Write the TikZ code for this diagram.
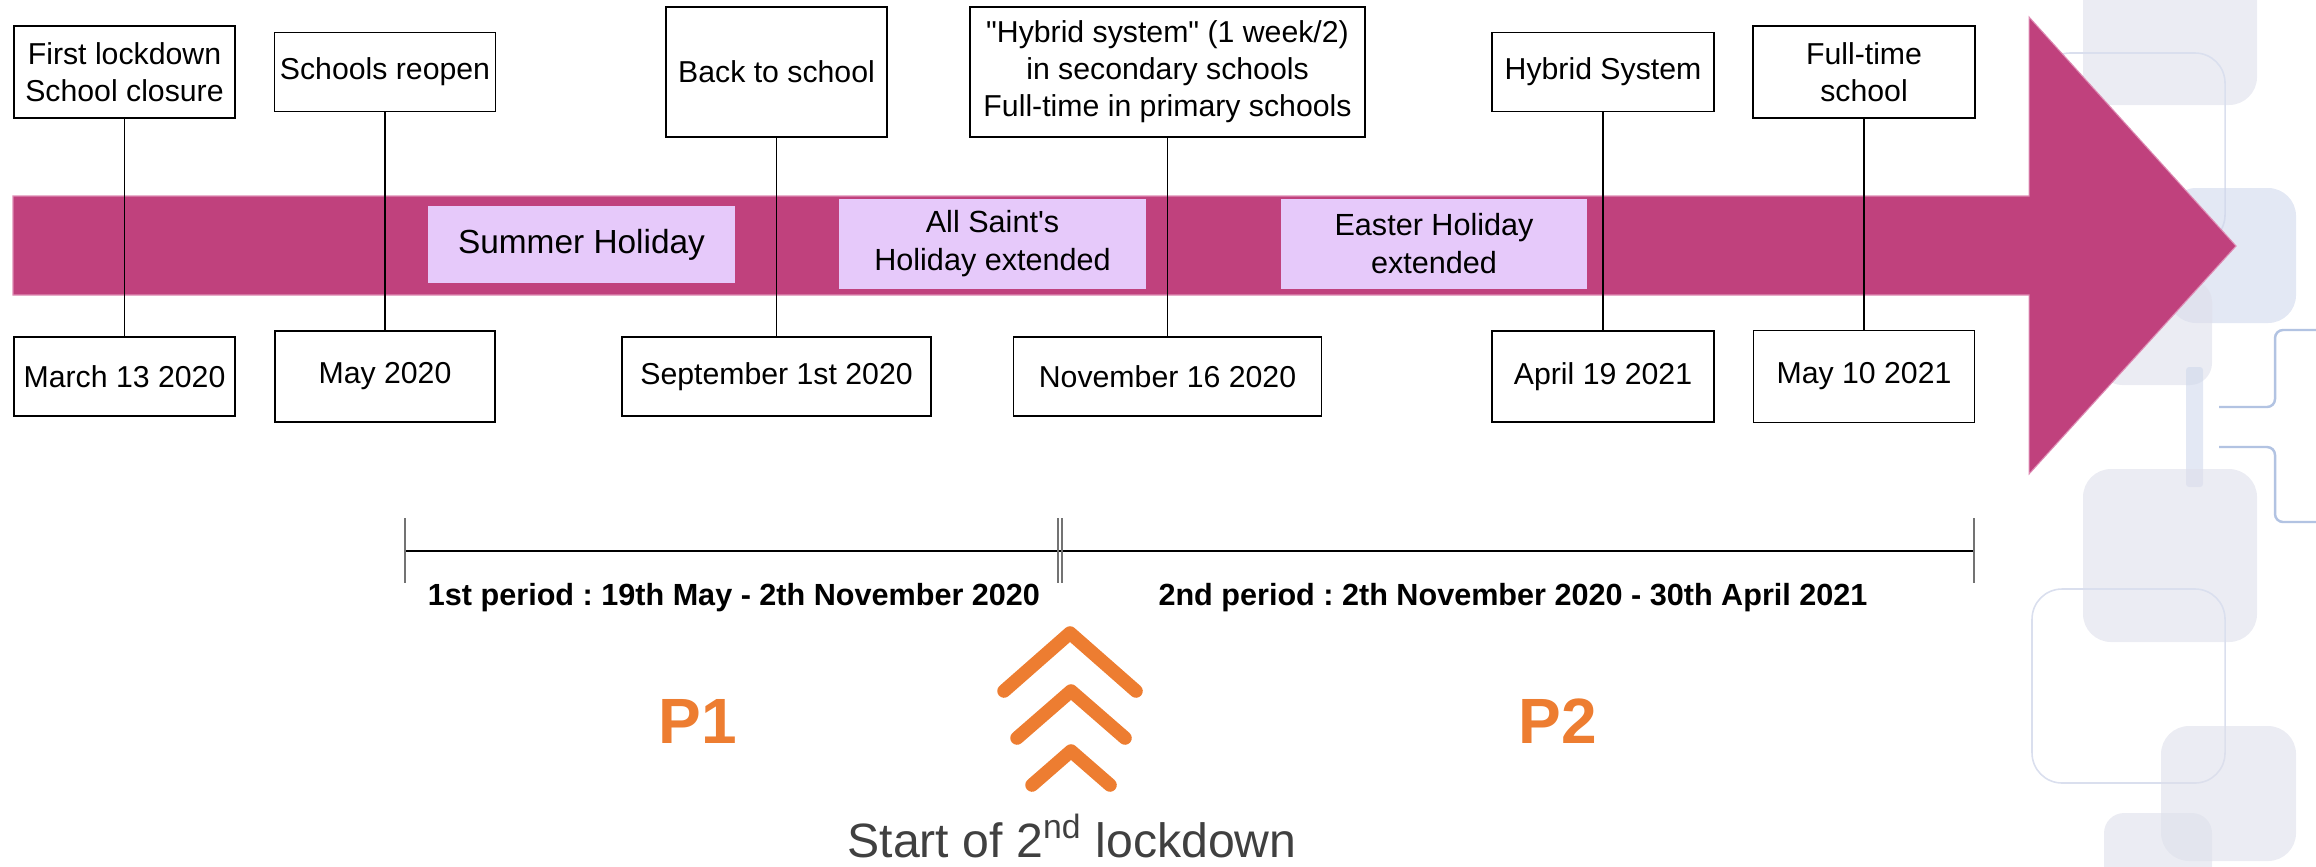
\documentclass[tikz,border=0pt]{standalone}
\usepackage{fontspec}
\setmainfont{Liberation Sans}[Ligatures=TeXOff]
\usetikzlibrary{positioning}
\definecolor{lockdownMagenta}{RGB}{192, 65, 125}
\definecolor{lockdownLightMagenta}{RGB}{222, 140, 180}
\definecolor{lockdownLavender}{RGB}{230, 201, 250}
\definecolor{lockdownOrange}{RGB}{237, 125, 49}
\definecolor{lockdownGrey}{RGB}{64, 64, 64}
\definecolor{decoFill}{RGB}{222, 224, 235}
\definecolor{decoBlue}{RGB}{208, 216, 236}
\definecolor{decoOutline}{RGB}{218, 223, 238}
\definecolor{decoLine}{RGB}{178, 195, 226}
\frenchspacing

\begin{document}
\begin{tikzpicture}[
  x=0.01cm,
  y=-0.01cm,
  eventbox/.style={
    draw,
    fill=white,
    line width=0.4pt,
    inner sep=0pt,
    align=center,
    font=\fontsize{8.6}{10.5}\selectfont
  },
  holiday/.style={
    fill=lockdownLavender,
    inner sep=0pt,
    align=center,
    font=\fontsize{8.7}{10.8}\selectfont
  },
  link/.style={line width=0.4pt},
  tick/.style={line width=0.45pt,black!55},
  period/.style={anchor=base,font=\bfseries\fontsize{8.7}{10.5}\selectfont},
  phase/.style={anchor=base,text=lockdownOrange,font=\bfseries\fontsize{18.2}{22}\selectfont},
  chevron/.style={lockdownOrange,line width=3.85pt,line cap=round,line join=round},
  deco/.style={fill=decoFill,fill opacity=0.6,rounded corners=0.28cm},
  decoframe/.style={draw=decoOutline,line width=0.45pt,rounded corners=0.3cm},
  decoline/.style={draw=decoLine,line width=0.7pt,rounded corners=0.08cm}
]
  \useasboundingbox (0,0) rectangle (2316,866);

  \fill[deco] (2083,-40) rectangle (2257,105);
  \draw[decoframe] (2040,53) rectangle (2225,245);
  \fill[deco,fill=decoBlue] (2168,188) rectangle (2296,323);
  \fill[deco,rounded corners=0.22cm] (2100,280) rectangle (2212,385);
  \fill[deco,fill=decoBlue,rounded corners=0.03cm] (2186,367) rectangle (2203,487);
  \draw[decoline] (2219,407) -- (2275,407) -- (2275,330) -- (2340,330);
  \draw[decoline] (2219,447) -- (2275,447) -- (2275,522) -- (2340,522);
  \fill[deco] (2083,469) rectangle (2257,642);
  \draw[decoframe] (2032,589) rectangle (2225,783);
  \fill[deco] (2161,726) rectangle (2296,861);
  \fill[deco,rounded corners=0.2cm] (2104,813) rectangle (2212,900);

  \fill[lockdownMagenta,draw=lockdownLightMagenta,line width=0.3pt]
    (13,196) -- (2029,196) -- (2029,17) -- (2236,246) -- (2029,474)
    -- (2029,295) -- (13,295) -- cycle;

  \node[holiday,minimum width=3.07cm,minimum height=0.77cm,font=\fontsize{9.5}{11.5}\selectfont] (summer)
    at (581.5,244.5) {Summer Holiday};
  \node[holiday,minimum width=3.07cm,minimum height=0.90cm] (allsaints)
    at (992.5,244) {All Saint's\\Holiday extended};
  \node[holiday,minimum width=3.06cm,minimum height=0.90cm] (easter)
    at (1434,244) {Easter Holiday\\extended};

  \node[eventbox,minimum width=2.21cm,minimum height=0.92cm] (lockdown)
    at (124.5,72) {First lockdown\\School closure};
  \node[eventbox,minimum width=2.21cm,minimum height=0.79cm] (reopen)
    at (385,72) {Schools reopen};
  \node[eventbox,minimum width=2.21cm,minimum height=1.30cm] (backtoschool)
    at (776.5,72) {Back to school};
  \node[eventbox,minimum width=3.95cm,minimum height=1.30cm] (hybridsecondary)
    at (1167.5,72) {"Hybrid system" (1 week/2)\\in secondary schools\\Full-time in primary schools};
  \node[eventbox,minimum width=2.22cm,minimum height=0.79cm] (hybrid)
    at (1603,72) {Hybrid System};
  \node[eventbox,minimum width=2.22cm,minimum height=0.92cm] (fulltime)
    at (1864,72) {Full-time\\school};

  \node[eventbox,minimum width=2.21cm,minimum height=0.79cm] (march)
    at (124.5,376.5) {March 13 2020};
  \node[eventbox,minimum width=2.20cm,minimum height=0.91cm] (may)
    at (385,376.5) {May 2020};
  \node[eventbox,minimum width=3.09cm,minimum height=0.79cm] (september)
    at (776.5,376.5) {September 1st 2020};
  \node[eventbox,minimum width=3.08cm,minimum height=0.79cm] (november)
    at (1167.5,376.5) {November 16 2020};
  \node[eventbox,minimum width=2.22cm,minimum height=0.91cm] (april)
    at (1603,376.5) {April 19 2021};
  \node[eventbox,minimum width=2.21cm,minimum height=0.92cm] (mayten)
    at (1864,376.5) {May 10 2021};

  \draw[link] (lockdown) -- (march);
  \draw[link] (reopen) -- (may);
  \draw[link] (backtoschool) -- (september);
  \draw[link] (hybridsecondary) -- (november);
  \draw[link] (hybrid) -- (april);
  \draw[link] (fulltime) -- (mayten);

  \coordinate (periodstart) at (405,551);
  \coordinate (lockdownsplit) at (1060,551);
  \coordinate (periodend) at (1974,551);
  \draw[link] (periodstart) -- (periodend);
  \draw[tick] (periodstart) ++(0,-33) -- ++(0,65);
  \draw[tick] (periodend) ++(0,-33) -- ++(0,65);
  \draw[tick] (lockdownsplit) ++(-2,-33) -- ++(0,65);
  \draw[tick] (lockdownsplit) ++(2,-33) -- ++(0,65);

  \node[period] (firstperiod) at (734,605)
    {1st period : 19th May - 2th November 2020};
  \node[period] (secondperiod) at (1513,605)
    {2nd period : 2th November 2020 - 30th April 2021};

  \node[phase] (pone) at (697.5,743) {P1};
  \node[phase] (ptwo) at (1558,743) {P2};

  \draw[chevron] (1004,691) -- (1070,633) -- (1136,691);
  \draw[chevron] (1017,738) -- (1071,691) -- (1125,738);
  \draw[chevron] (1032,785) -- (1071,751) -- (1110,785);

  \node[anchor=base,inner sep=0pt,text=lockdownGrey,font=\fontsize{13.7}{16}\selectfont] (secondlockdown)
    at (1072,857) {Start of 2\textsuperscript{nd} lockdown};
\end{tikzpicture}
\end{document}
